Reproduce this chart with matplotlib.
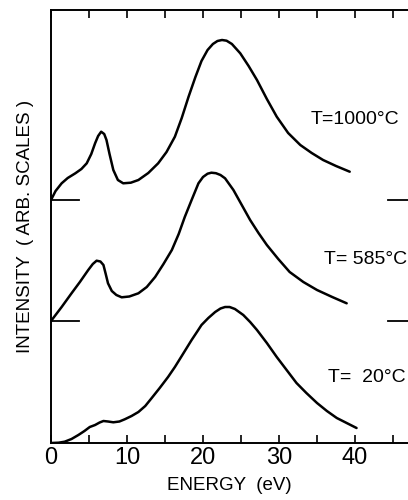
import numpy as np
import matplotlib.pyplot as plt

# energy (eV) and intensity (arb.), one pair of lists per temperature
e_20 = [0, 1, 1.8, 2.7, 3.6, 4.4, 5.1, 5.8, 6.4, 6.9, 7.5, 8.2, 9.0, 9.7, 10.6, 11.5,
        12.4, 13.2, 14.3, 15.4, 16.3, 17.2, 18.5, 19.2, 19.8, 20.7, 21.6, 22.3, 22.9,
        23.5, 24.2, 25.3, 26.2, 27.1, 28.4, 29.7, 31.0, 32.3, 33.6, 35.0, 36.3, 37.6,
        38.9, 40.2]
i_20 = [0, 0.3, 1.3, 4, 8, 12, 16, 18, 20.5, 22, 21.5, 20.7, 21.5, 23.7, 27, 31,
        37, 44.5, 55, 66, 76, 87, 103, 111, 118, 125, 131, 134.5, 136,
        136, 134, 128, 121, 113, 100, 86, 73, 60, 50, 40, 32, 25,
        20, 15]

e_585 = [0, 1.4, 2.7, 3.8, 4.9, 5.5, 6.0, 6.5, 6.9, 7.2, 7.5, 8.0, 8.6, 9.3, 10.3,
         11.5, 12.6, 13.7, 14.8, 15.9, 16.8, 17.6, 18.5, 19.4, 20.0, 20.6, 21.1, 21.7,
         22.3, 22.9, 24.0, 25.1, 26.2, 27.3, 28.4, 29.9, 31.4, 33.2, 35.0, 37.0, 38.9]
i_585 = [0, 14, 27.7, 39, 51, 57, 60.3, 59.5, 56, 47, 37.7, 30, 26, 23.7, 24.5,
         27.7, 34, 44, 57, 71, 87, 104, 121, 137.7, 144, 147.3, 148.3, 147.8,
         146, 142.7, 131, 116, 101, 88, 76, 62, 49, 39, 31, 24, 17.7]

e_1000 = [0, 0.6, 1.4, 2.2, 3.2, 4.0, 4.7, 5.3, 5.8, 6.2, 6.6, 7.0, 7.3, 7.7, 8.2,
          8.8, 9.5, 10.5, 11.5, 12.8, 14.1, 15.2, 16.3, 17.2, 18.1, 19.0, 19.8, 20.6,
          21.3, 21.9, 22.5, 23.1, 23.8, 24.9, 26.0, 27.1, 28.4, 29.7, 31.2, 32.8, 34.3,
          35.8, 37.5, 39.3]
i_1000 = [0, 9, 16.7, 22, 26.7, 31, 36.7, 46, 56.7, 64, 68.3, 66, 60, 46, 30,
          20, 16.7, 17.3, 20, 27, 36.7, 48, 63.3, 82, 103.3, 123, 139, 150,
          156, 159, 160, 159.3, 156, 146.7, 134, 120, 101, 83.3, 67, 55, 47,
          40, 34, 28.3]

offsets = [0, 122, 243]   # baseline of each stacked curve
labels = ["T=  20°C", "T= 585°C", "T=1000°C"]
label_y = [66, 183, 323]

plt.rcParams['font.family'] = ['Liberation Sans', 'DejaVu Sans']

fig = plt.figure(figsize=(4.08, 5.0), dpi=100)
ax = fig.add_axes([51/408, 57/500, 357/408, 433/500])

curves = [(e_20, i_20), (e_585, i_585), (e_1000, i_1000)]
for (e, i), off in zip(curves, offsets):
    ax.plot(e, np.array(i) + off, color='black', lw=1.8, solid_capstyle='round',
            solid_joinstyle='round')

# short baseline marks at both sides for the shifted curves
for off in offsets[1:]:
    ax.plot([0, 3.7], [off, off], color='black', lw=1.3)
    ax.plot([44.3, 47], [off, off], color='black', lw=1.3)

label_x = [46.6, 46.9, 45.8]
for lab, ly, lx in zip(labels, label_y, label_x):
    ax.text(lx, ly, lab, ha='right', va='center', fontsize=14)

ax.set_xlim(0, 46.97)
ax.set_ylim(0, 433)
ax.set_xticks(np.arange(0, 50, 5))
ax.set_xticklabels(['0', '', '10', '', '20', '', '30', '', '40', ''])
ax.set_yticks([])
ax.tick_params(axis='x', direction='in', top=True, length=6, width=1.2,
               labelsize=17, pad=3)
ax.spines['right'].set_visible(False)
for s in ['left', 'bottom', 'top']:
    ax.spines[s].set_linewidth(1.4)

ax.set_xlabel("ENERGY  (eV)", fontsize=13.5, labelpad=6)
ax.set_ylabel("INTENSITY  ( ARB. SCALES )", fontsize=13.5, labelpad=12)

fig.savefig("out.png", dpi=100)
